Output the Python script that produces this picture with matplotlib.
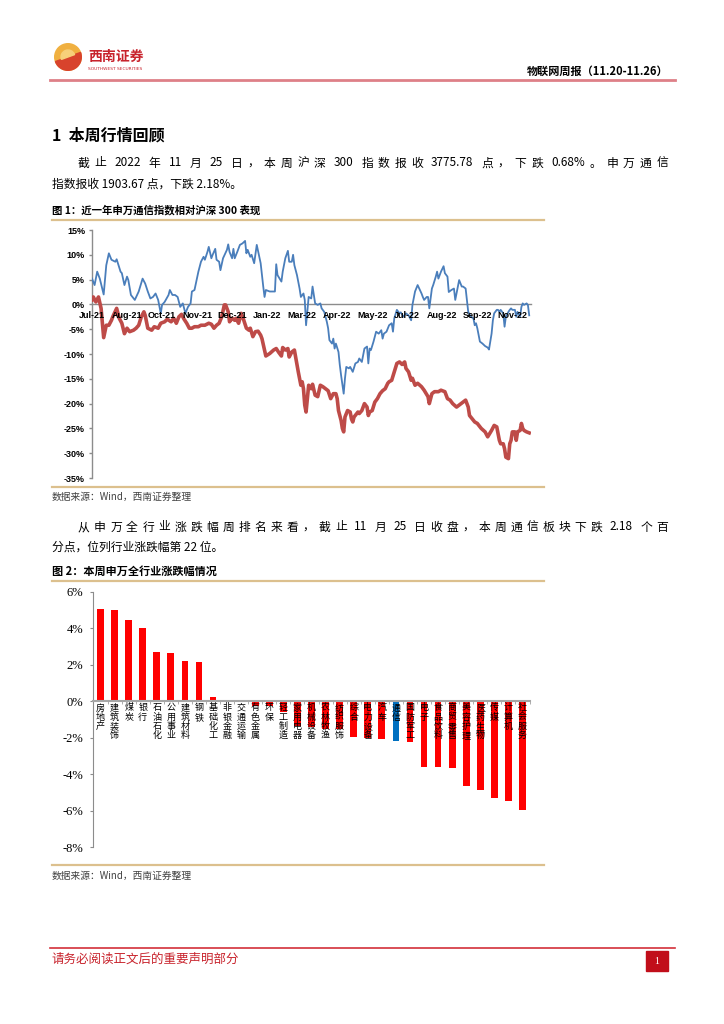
import matplotlib
matplotlib.use("Agg")
import matplotlib.pyplot as plt
from matplotlib.lines import Line2D
from matplotlib.patches import Circle, Wedge, Rectangle
import numpy as np

plt.rcParams['font.family'] = ['Noto Sans CJK SC', 'DejaVu Sans']

W, H = 724, 1024

# ---- chart 1: trading-day index vs. % change ----
comm_day = [0, 2, 4, 6, 9, 11, 13, 15, 18, 19, 22, 23, 25, 27, 28, 30, 33, 36, 39, 41,
            43, 45, 47, 49, 51, 53, 54, 56, 59, 60, 62, 64, 66, 68, 70, 72, 74, 76, 77, 79,
            82, 84, 86, 87, 89, 90, 92, 93, 95, 96, 98, 99, 101, 104, 105, 106, 108, 109, 110, 112,
            114, 116, 118, 119, 120, 122, 123, 125, 127, 129, 130, 132, 133, 134, 137, 141, 142, 143, 146, 147,
            149, 151, 152, 154, 155, 156, 158, 160, 161, 163, 164, 165, 167, 169, 170, 172, 174, 176, 177, 179,
            181, 182, 183, 185, 186, 187, 188, 190, 191, 192, 194, 195, 196, 198, 199, 201, 203, 205, 206, 208,
            210, 212, 213, 214, 215, 217, 219, 221, 223, 224, 225, 227, 229, 231, 232, 233, 235, 237, 238, 240,
            242, 244, 246, 247, 249, 251, 254, 255, 256, 258, 259, 260, 262, 263, 265, 266, 267, 269, 271, 272,
            274, 275, 277, 279, 280, 282, 283, 285, 286, 288, 289, 290, 292, 294, 295, 296, 297, 299, 301, 303,
            305, 306, 308, 309, 310, 312, 313, 314, 315, 317, 318, 319, 321, 322, 323, 324, 326, 327, 328, 330,
            331, 332, 333, 335, 336, 337]
comm_val = [5.2, 3.9, 6.6, 5.2, 2.0, 7.9, 10.3, 9.0, 8.6, 9.1, 6.6, 6.3, 3.9, 5.6, 4.9, 1.9, 0.9, 2.6, 5.2, 4.2,
            2.6, 1.2, 1.5, 2.2, 0.9, -1.8, -0.1, 0.5, 1.9, 2.9, 1.9, 1.9, 1.5, -0.5, 0.2, -1.8, -0.5, 0.2, 2.6, 2.9,
            6.6, 8.6, 9.6, 9.0, 10.6, 11.6, 9.3, 10.0, 11.2, 9.0, 8.6, 6.9, 9.3, 11.0, 12.1, 10.6, 9.3, 11.2, 9.3, 10.6,
            12.0, 12.3, 12.8, 10.3, 11.0, 9.6, 10.0, 8.3, 12.0, 9.6, 8.3, 3.6, 1.5, 2.9, 2.6, 2.6, 8.1, 5.9, 4.6, 6.6,
            9.3, 10.8, 8.6, 8.6, 10.0, 7.9, 5.9, 3.2, 1.5, 2.2, 0.9, -4.2, 1.5, 1.2, 3.6, 0.2, -0.1, 0.2, -0.8, -1.5,
            -3.5, -4.8, -7.2, -7.9, -6.9, -8.9, -7.9, -9.6, -12.2, -14.3, -18.0, -14.9, -12.6, -12.9, -12.6, -13.6, -11.9, -11.6, -10.9, -11.6,
            -8.9, -8.5, -11.9, -8.9, -9.2, -7.5, -5.5, -5.9, -5.2, -6.9, -5.9, -5.5, -4.2, -3.8, -5.5, -2.8, -1.1, -1.8, -1.6, -2.5,
            -1.8, -2.2, -3.2, -0.1, 2.6, 3.9, 2.2, 1.5, 0.9, 1.5, 1.5, -0.8, 3.2, 3.9, 5.6, 6.6, 5.2, 6.6, 7.7, 6.3,
            5.6, 2.5, 2.9, 3.2, 0.9, 3.6, 4.9, 3.6, 3.6, 3.2, 0.9, -1.5, -2.5, -2.8, -4.2, -3.8, -4.8, -7.5, -7.9, -8.4,
            -8.7, -9.1, -5.9, -3.2, -1.8, -1.1, -1.1, -1.5, -1.1, -1.8, -4.5, -2.5, -1.5, -1.1, -0.8, -1.1, -1.1, -2.5, -1.5, -2.4,
            -0.5, 0.2, -0.1, 0.2, -0.1, -2.2]

rel_day = [0, 1, 3, 5, 7, 9, 11, 13, 15, 16, 19, 21, 23, 25, 27, 29, 32, 34, 36, 38,
           40, 41, 43, 46, 48, 51, 53, 56, 58, 61, 63, 65, 67, 69, 71, 73, 75, 77, 79, 82,
           84, 87, 90, 92, 94, 96, 98, 100, 102, 103, 105, 106, 108, 110, 111, 113, 115, 117, 119, 121,
           122, 124, 126, 128, 130, 131, 133, 134, 137, 140, 142, 144, 146, 147, 149, 151, 152, 154, 156, 158,
           159, 161, 162, 163, 164, 165, 167, 169, 170, 172, 174, 176, 178, 180, 182, 184, 186, 188, 189, 190,
           192, 193, 194, 195, 197, 199, 200, 201, 202, 205, 206, 208, 210, 212, 213, 214, 216, 218, 220, 222,
           224, 226, 228, 229, 231, 233, 235, 237, 239, 241, 242, 244, 246, 247, 249, 251, 254, 256, 259, 260,
           262, 264, 267, 269, 272, 274, 276, 278, 281, 283, 286, 288, 290, 291, 294, 295, 297, 300, 303, 305,
           308, 310, 312, 313, 314, 315, 317, 318, 319, 321, 322, 323, 324, 326, 327, 328, 330, 331, 332, 333,
           335, 337]
rel_val = [0.9, 1.5, 0.5, 1.5, -0.8, -6.7, -4.2, -4.2, -3.2, -2.5, -0.8, -2.8, -3.8, -5.9, -4.8, -5.5, -5.2, -4.8, -4.2, -2.5,
           -1.5, -2.2, -4.8, -5.2, -4.5, -4.8, -3.8, -3.5, -3.0, -3.5, -2.8, -3.8, -2.5, -2.0, -3.0, -3.8, -4.8, -4.8, -4.5, -4.5,
           -4.2, -4.2, -3.8, -4.0, -4.8, -4.2, -3.8, -2.5, -0.1, -0.1, -1.5, -3.5, -2.8, -3.2, -2.8, -3.8, -1.8, -3.2, -4.8, -5.2,
           -4.8, -6.5, -5.5, -5.4, -6.2, -6.9, -9.2, -10.4, -9.9, -9.2, -8.9, -9.7, -10.4, -8.7, -9.2, -8.9, -10.6, -9.6, -9.2, -12.2,
           -13.6, -16.3, -15.6, -17.0, -20.3, -21.7, -16.3, -17.0, -16.1, -18.3, -18.6, -16.3, -16.6, -17.0, -17.4, -19.0, -18.0, -18.0, -19.0, -21.4,
           -23.4, -25.0, -25.7, -22.7, -21.4, -21.7, -23.1, -23.7, -22.7, -21.7, -22.0, -21.4, -20.0, -20.7, -22.4, -21.7, -21.4, -19.7, -19.0, -18.0,
           -17.4, -17.0, -15.9, -15.6, -15.3, -13.6, -11.9, -11.6, -12.1, -11.6, -12.9, -13.6, -15.3, -14.9, -16.3, -15.9, -16.6, -17.3, -18.6, -20.0,
           -18.0, -17.6, -17.6, -17.3, -17.6, -19.0, -19.3, -20.0, -20.7, -20.3, -19.7, -19.3, -20.7, -22.4, -23.4, -23.7, -24.0, -25.0, -25.7, -26.7,
           -25.4, -24.4, -24.7, -26.0, -27.4, -28.1, -28.1, -29.1, -30.8, -31.1, -28.1, -27.4, -25.7, -25.7, -27.4, -25.7, -25.4, -24.0, -25.0, -25.4,
           -25.7, -25.9]

month_labels = ['Jul-21', 'Aug-21', 'Oct-21', 'Nov-21', 'Dec-21', 'Jan-22', 'Mar-22',
                'Apr-22', 'May-22', 'Jul-22', 'Aug-22', 'Sep-22', 'Nov-22']
LABEL_STEP = 27  # trading days between axis labels

# ---- chart 2: weekly change by SW industry (%) ----
industries = ['房地产', '建筑装饰', '煤炭', '银行', '石油石化', '公用事业', '建筑材料', '钢铁',
              '基础化工', '非银金融', '交通运输', '有色金属', '环保', '轻工制造', '家用电器',
              '机械设备', '农林牧渔', '纺织服饰', '综合', '电力设备', '汽车', '通信', '国防军工',
              '电子', '食品饮料', '商贸零售', '美容护理', '医药生物', '传媒', '计算机', '社会服务']
weekly_chg = [5.07, 5.02, 4.47, 4.05, 2.73, 2.67, 2.20, 2.13, 0.24, 0.01, 0.05, -0.27, -0.27,
              -0.58, -1.35, -1.40, -1.52, -1.52, -1.95, -2.02, -2.07, -2.18, -2.22, -3.62,
              -3.62, -3.65, -4.65, -4.89, -5.29, -5.47, -5.98]
highlight = '通信'


def fx(px):
    return px / W


def fy(py):
    return 1 - py / H


fig = plt.figure(figsize=(7.24, 10.24), dpi=100)
fig.patch.set_facecolor('white')


def hline(x0, x1, y, color, lw):
    fig.add_artist(Line2D([fx(x0), fx(x1)], [fy(y), fy(y)], color=color, lw=lw))


def tokens(text):
    # CJK chars stand alone, runs of ascii stay together; a space only marks a small gap
    out, gaps, run = [], [], ''
    pending = 0.0
    for ch in text:
        if ch == ' ' or ord(ch) >= 128:
            if run:
                out.append(run)
                gaps.append(pending)
                pending = 0.0
                run = ''
            if ch == ' ':
                pending += 3.0
            else:
                out.append(ch)
                gaps.append(pending)
                pending = 0.0
        else:
            run += ch
    if run:
        out.append(run)
        gaps.append(pending)
    return out, gaps


def justified(text, x0, x1, y, size, **kw):
    # spread tokens so the line fills x0..x1 (like the justified source text)
    r = fig.canvas.get_renderer()
    toks, gaps = tokens(text)
    widths = []
    for tk in toks:
        t = fig.text(0, 0, tk, fontsize=size, **kw)
        widths.append(t.get_window_extent(renderer=r).width)
        t.remove()
    extra = (x1 - x0 - sum(widths) - sum(gaps[1:])) / (len(toks) - 1)
    x = x0
    for i, (tk, w) in enumerate(zip(toks, widths)):
        if i > 0:
            x += gaps[i] + extra
        fig.text(fx(x), fy(y), tk, fontsize=size, ha='left', va='center', **kw)
        x += w


# ---- header ----
ax_logo = fig.add_axes([fx(54), fy(71), fx(28), 28 / H])
ax_logo.set_xlim(-1, 1)
ax_logo.set_ylim(-1, 1)
ax_logo.set_aspect('equal')
ax_logo.axis('off')
ax_logo.add_patch(Circle((0, 0), 0.95, color='#F0B040'))
ax_logo.add_patch(Wedge((0, 0), 0.95, 200, 20, color='#D8432C'))
ax_logo.add_patch(Wedge((0.0, 0.0), 0.5, 20, 200, color='#F7D07A'))
fig.text(fx(88), fy(57), '西南证券', fontsize=10, fontweight='bold', color='#C8232C',
         ha='left', va='center')
fig.text(fx(88), fy(69), 'SOUTHWEST SECURITIES', fontsize=3.2, color='#C8232C',
         ha='left', va='center', family='DejaVu Sans')
fig.text(fx(668), fy(71), '物联网周报（11.20-11.26）', fontsize=8, fontweight='bold',
         ha='right', va='center')
hline(50, 675, 80, '#DE8087', 2)

# ---- section text ----
BODY = 8.5
fig.text(fx(52), fy(135), '1  本周行情回顾', fontsize=11.5, fontweight='bold',
         ha='left', va='center')
justified('截止 2022 年 11 月 25 日，本周沪深 300 指数报收 3775.78 点，下跌 0.68%。申万通信',
          78, 668, 163, BODY)
fig.text(fx(52), fy(184), '指数报收 1903.67 点，下跌 2.18%。', fontsize=BODY, ha='left', va='center')

fig.text(fx(52), fy(210), '图 1：近一年申万通信指数相对沪深 300 表现', fontsize=7.5,
         fontweight='bold', ha='left', va='center')
hline(52, 544, 220, '#DCC08E', 1.6)
hline(52, 544, 487, '#DCC08E', 1.6)
fig.text(fx(52), fy(497), '数据来源：Wind，西南证券整理', fontsize=7, color='#404040',
         ha='left', va='center')

justified('从申万全行业涨跌幅周排名来看，截止 11 月 25 日收盘，本周通信板块下跌 2.18 个百',
          78, 668, 527, BODY)
fig.text(fx(52), fy(547), '分点，位列行业涨跌幅第 22 位。', fontsize=BODY, ha='left', va='center')

fig.text(fx(52), fy(571), '图 2：本周申万全行业涨跌幅情况', fontsize=8, fontweight='bold',
         ha='left', va='center')
hline(52, 544, 581, '#DCC08E', 1.6)
hline(52, 544, 865, '#DCC08E', 1.6)
fig.text(fx(52), fy(876), '数据来源：Wind，西南证券整理', fontsize=7, color='#404040',
         ha='left', va='center')

# ---- footer ----
hline(50, 675, 948, '#D3303A', 1.2)
fig.text(fx(52), fy(959), '请务必阅读正文后的重要声明部分', fontsize=9, color='#C8232C',
         ha='left', va='center')
fig.add_artist(Rectangle((fx(646), fy(971)), fx(22), 20 / H, color='#C10E1A',
                         transform=fig.transFigure))
fig.text(fx(657), fy(961), '1', fontsize=7, color='white', ha='center', va='center',
         family='Liberation Serif')

# ---- chart 1 ----
ax1 = fig.add_axes([fx(92), fy(478), (530.5 - 92) / W, (478 - 230) / H])
ax1.spines['bottom'].set_position(('data', 0))
ax1.plot(comm_day, comm_val, color='#4A7EBB', lw=1.3, zorder=3)
ax1.plot(rel_day, rel_val, color='#BE4B48', lw=2.6, zorder=3)
ax1.set_xlim(0, 338)
ax1.set_ylim(-35, 15)
ax1.set_yticks(np.arange(-35, 16, 5))
ax1.set_yticklabels(['%d%%' % v for v in np.arange(-35, 16, 5)], fontsize=6.5,
                    fontweight='bold', family='Liberation Sans')
ax1.set_xticks(np.arange(len(month_labels)) * LABEL_STEP)
ax1.set_xticklabels(month_labels, fontsize=6.5, fontweight='bold', family='Liberation Sans')
for s in ['top', 'right']:
    ax1.spines[s].set_visible(False)
ax1.spines['bottom'].set_color('#8C8C8C')
ax1.spines['left'].set_color('#8C8C8C')
ax1.spines['bottom'].set_linewidth(1.0)
ax1.spines['left'].set_linewidth(1.0)
ax1.tick_params(axis='x', length=0, pad=5)
ax1.tick_params(axis='y', length=2.5, width=1, color='#8C8C8C', pad=2.5)
ax1.xaxis.set_zorder(5)  # month labels sit on top of the lines
ax1.patch.set_alpha(0)

# ---- chart 2 ----
ax2 = fig.add_axes([fx(93.5), fy(847), (529.5 - 93.5) / W, (847 - 592) / H])
ax2.spines['bottom'].set_position(('data', 0))
xpos = np.arange(len(industries))
colors = ['#0070C0' if n == highlight else '#FF0000' for n in industries]
ax2.bar(xpos, weekly_chg, width=0.48, color=colors, zorder=2)
ax2.set_xlim(-0.5, len(industries) - 0.5)
ax2.set_ylim(-8, 6)
ax2.set_yticks(np.arange(-8, 7, 2))
ax2.set_yticklabels(['%d%%' % v for v in np.arange(-8, 7, 2)], fontsize=9,
                    family='Liberation Serif')
ax2.set_xticks([])
ax2.set_xticks(np.arange(-0.5, len(industries), 1), minor=True)
ax2.tick_params(axis='x', which='minor', length=2, color='#A0A0A0', direction='out')
for s in ['top', 'right']:
    ax2.spines[s].set_visible(False)
ax2.spines['bottom'].set_color('#A6A6A6')
ax2.spines['bottom'].set_linewidth(1.5)
ax2.spines['left'].set_color('#8C8C8C')
ax2.tick_params(axis='y', length=2.5, color='#8C8C8C', pad=5)
for i, name in enumerate(industries):
    ax2.text(i, -0.12, '\n'.join(name), ha='center', va='top', fontsize=6.5,
             linespacing=1.02, zorder=4)
ax2.patch.set_alpha(0)

fig.savefig('out.png', dpi=100)
